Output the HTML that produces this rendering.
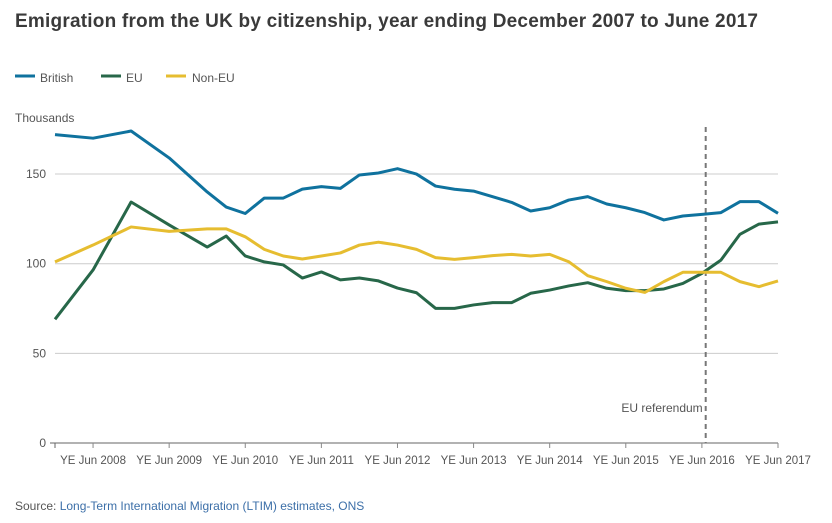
<!DOCTYPE html>
<html><head><meta charset="utf-8">
<style>
body{margin:0;background:#fff;font-family:"Liberation Sans",sans-serif;}
svg text{font-family:"Liberation Sans",sans-serif;}
</style></head>
<body>
<svg id="chart" width="832" height="518" viewBox="0 0 832 518" xmlns="http://www.w3.org/2000/svg">
<text x="15" y="27" font-size="19" font-weight="bold" fill="#3a3a3a" textLength="743" lengthAdjust="spacing">Emigration from the UK by citizenship, year ending December 2007 to June 2017</text>
<g>
 <g><rect x="15" y="74.5" width="20" height="3" fill="#0f729e"/><text x="40" y="82" font-size="12" fill="#555">British</text></g>
 <g><rect x="101" y="74.5" width="20" height="3" fill="#276749"/><text x="126" y="82" font-size="12" fill="#555">EU</text></g>
 <g><rect x="166" y="74.5" width="20" height="3" fill="#e6bd30"/><text x="192" y="82" font-size="12" fill="#555">Non-EU</text></g>
</g>
<text x="15" y="122" font-size="12" fill="#555">Thousands</text>
<g id="grid"></g>
<g id="xaxis"></g>
<g id="series"></g>
<text x="15" y="510" font-size="12" fill="#555">Source: <tspan fill="#3c6fa8">Long-Term International Migration (LTIM) estimates, ONS</tspan></text>
</svg>
<script>
const tickIdx = [2,6,10,14,18,22,26,30,34,38];
const tickLabels = ["YE Jun 2008","YE Jun 2009","YE Jun 2010","YE Jun 2011","YE Jun 2012","YE Jun 2013","YE Jun 2014","YE Jun 2015","YE Jun 2016","YE Jun 2017"];
const yTicks = [0,50,100,150];
const quarterIdx = [0,2,4,6,8,9,10,11,12,13,14,15,16,17,18,19,20,21,22,23,24,25,26,27,28,29,30,31,32,33,34,35,36,37,38];
const british = [172,170,174,159,140,131.6,128,136.6,136.6,141.6,143,142,149.5,150.6,153,150,143.3,141.5,140.5,137.4,134.2,129.4,131.2,135.5,137.4,133.3,131.2,128.5,124.4,126.6,127.5,128.5,134.6,134.6,128.1];
const eu = [69,96.5,134.4,121.6,109.3,115.4,104.3,101,99.3,92,95.4,91,92,90.4,86.4,83.8,75.1,75.1,77,78.3,78.3,83.5,85.3,87.6,89.4,86.3,85,85,85.9,89,94.6,102,116.4,122.1,123.3];
const nonEu = [101,110.4,120.5,118,119.4,119.4,115,108,104.3,102.6,104.3,106,110.4,112,110.4,108,103.4,102.4,103.4,104.5,105.2,104.3,105.2,101.1,93.3,90,86.3,84,90,95.2,95.2,95.2,90,87.2,90.4];
const referendumIdx = 34.2;

const NS="http://www.w3.org/2000/svg";
const x0=55, x1=778, nQ=38, y0=443, yPer=1.793;
const xs = i => x0 + (x1-x0)*i/nQ;
const ys = v => y0 - v*yPer;
function mk(tag, attrs, parent){const e=document.createElementNS(NS,tag);for(const k in attrs)e.setAttribute(k,attrs[k]);parent.appendChild(e);return e;}
const grid=document.getElementById('grid'), xa=document.getElementById('xaxis'), ser=document.getElementById('series');
yTicks.forEach(v=>{
  if(v>0){const l=mk('line',{x1:x0,x2:x1,y1:ys(v),y2:ys(v),stroke:'#ccc','stroke-width':1},grid);
  
  }
  const t=mk('text',{x:46,y:ys(v)+4,'text-anchor':'end','font-size':12,fill:'#555'},grid);
  t.textContent=v;
  
  
});
const ax=mk('line',{x1:50,x2:x1,y1:y0,y2:y0,stroke:'#666','stroke-width':1},xa);


mk('line',{x1:x0,x2:x0,y1:y0,y2:y0+5,stroke:'#666'},xa);
tickIdx.forEach((q,i)=>{
  mk('line',{x1:xs(q),x2:xs(q),y1:y0,y2:y0+5,stroke:'#888'},xa);
  const t=mk('text',{x:xs(q),y:y0+21,'text-anchor':'middle','font-size':11.5,fill:'#555'},xa);
  t.textContent=tickLabels[i];
  
  
});
const ref=mk('line',{x1:xs(referendumIdx),x2:xs(referendumIdx),y1:127,y2:y0,stroke:'#777','stroke-width':2,'stroke-dasharray':'5,4'},ser);


const rt=mk('text',{x:xs(referendumIdx)-3,y:412,'text-anchor':'end','font-size':12,fill:'#555'},ser);
rt.textContent='EU referendum';


[[british,'#0f729e','british-line'],[eu,'#276749','eu-line'],[nonEu,'#e6bd30','non-eu-line']].forEach(([d,c,n])=>{
  const p=mk('polyline',{points:d.map((v,i)=>xs(quarterIdx[i])+','+ys(v)).join(' '),fill:'none',stroke:c,'stroke-width':3,'stroke-linejoin':'round'},ser);
  
  
});
</script>
</body></html>
